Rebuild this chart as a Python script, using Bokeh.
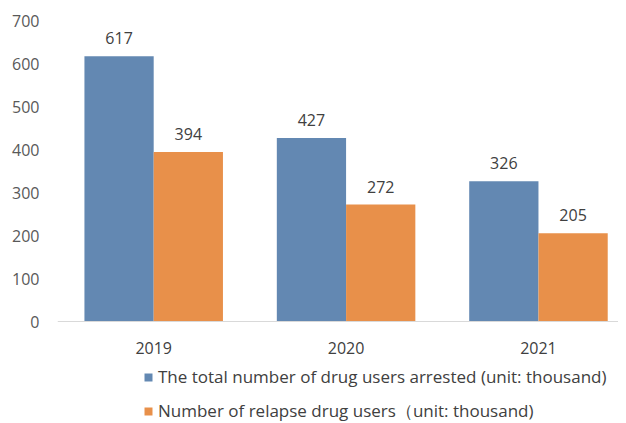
from bokeh.plotting import figure
from bokeh.models import ColumnDataSource, Range1d, Legend, LegendItem, FixedTicker, LabelSet
from bokeh.core.properties import value
from bokeh.embed import file_html
from bokeh.resources import INLINE

years = ["2019", "2020", "2021"]
arrested = [617, 427, 326]
relapse = [394, 272, 205]
series_names = ["The total number of drug users arrested (unit: thousand)",
                "Number of relapse drug users\uff08unit: thousand)"]
y_ticks = [0, 100, 200, 300, 400, 500, 600, 700]

BLUE = "#6388b2"
ORANGE = "#e8904a"
FONT = "Open Sans"

xpos = list(range(len(years)))
w = 0.36
src_a = ColumnDataSource(dict(x=[i - w / 2 for i in xpos], top=arrested, lab=[str(v) for v in arrested]))
src_r = ColumnDataSource(dict(x=[i + w / 2 for i in xpos], top=relapse, lab=[str(v) for v in relapse]))

p = figure(width=618, height=423, output_backend="svg", toolbar_location=None,
           x_range=Range1d(-0.5, 2.416), y_range=Range1d(-237.2, 700),
           min_border_left=57, min_border_right=0, min_border_top=20, min_border_bottom=0)
p.outline_line_color = None
p.grid.visible = False

ra = p.vbar(x="x", top="top", width=w, source=src_a, fill_color=BLUE, line_color=None)
rr = p.vbar(x="x", top="top", width=w, source=src_r, fill_color=ORANGE, line_color=None)

for s in (src_a, src_r):
    p.add_layout(LabelSet(x="x", y="top", text="lab", source=s, text_align="center",
                          text_baseline="bottom", y_offset=12, text_font=value(FONT),
                          text_font_size="16px", text_color="#404040"))

p.yaxis.ticker = FixedTicker(ticks=y_ticks)
p.yaxis.axis_line_color = None
p.yaxis.major_tick_line_color = None
p.yaxis.minor_tick_line_color = None
p.yaxis.major_label_text_font = FONT
p.yaxis.major_label_text_font_size = "16px"
p.yaxis.major_label_text_color = "#595959"
p.yaxis.major_label_standoff = 12

p.xaxis.fixed_location = 0
p.xaxis.ticker = FixedTicker(ticks=xpos)
p.xaxis.major_label_overrides = {i: y for i, y in zip(xpos, years)}
p.xaxis.axis_line_color = "#d9d9d9"
p.xaxis.major_tick_line_color = None
p.xaxis.minor_tick_line_color = None
p.xaxis.major_label_text_font = FONT
p.xaxis.major_label_text_font_size = "16px"
p.xaxis.major_label_text_color = "#404040"
p.xaxis.major_label_standoff = 14

legend = Legend(items=[LegendItem(label=series_names[0], renderers=[ra]),
                       LegendItem(label=series_names[1], renderers=[rr])],
                orientation="vertical", location=(86, 0),
                label_text_font=FONT, label_text_font_size="17px", label_text_color="#404040",
                glyph_width=10, glyph_height=10, spacing=11, padding=0, margin=0,
                border_line_color=None, background_fill_alpha=0, label_standoff=5)
p.add_layout(legend, "center")

open("out.html", "w").write(file_html(p, INLINE))
